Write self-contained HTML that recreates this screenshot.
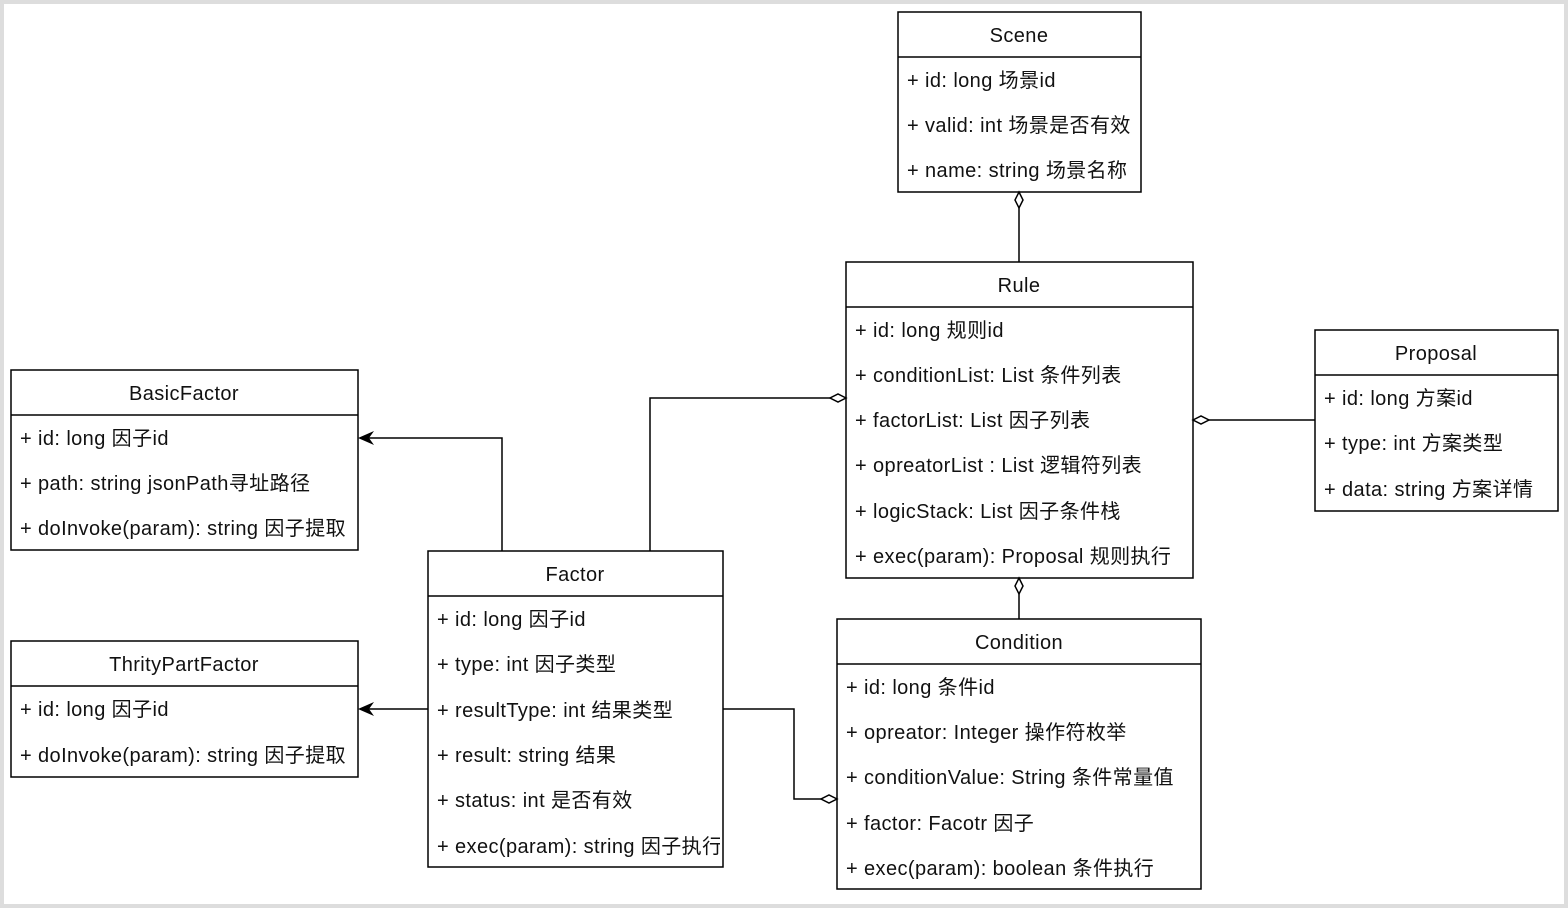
<!DOCTYPE html>
<html><head><meta charset="utf-8"><style>
body{margin:0;background:#fff}
svg text{font-family:"Liberation Sans","Noto Sans CJK SC",sans-serif;font-size:20px;letter-spacing:0.4px;fill:#111}
</style></head><body>
<svg width="1568" height="908" xmlns="http://www.w3.org/2000/svg">
<defs><clipPath id="fc"><rect x="428" y="551" width="292" height="316"/></clipPath></defs>
<rect x="2" y="2" width="1564" height="904" fill="#fff" stroke="#ddd" stroke-width="4"/>
<g fill="#fff" stroke="#000" stroke-width="1.5">
<rect x="898" y="12" width="243" height="180"/><line x1="898" y1="57" x2="1141" y2="57"/>
<rect x="846" y="262" width="347" height="316"/><line x1="846" y1="307" x2="1193" y2="307"/>
<rect x="1315" y="330" width="243" height="181"/><line x1="1315" y1="375" x2="1558" y2="375"/>
<rect x="11" y="370" width="347" height="180"/><line x1="11" y1="415" x2="358" y2="415"/>
<rect x="428" y="551" width="295" height="316"/><line x1="428" y1="596" x2="723" y2="596"/>
<rect x="11" y="641" width="347" height="136"/><line x1="11" y1="686" x2="358" y2="686"/>
<rect x="837" y="619" width="364" height="270"/><line x1="837" y1="664" x2="1201" y2="664"/>
</g>
<g fill="none" stroke="#000" stroke-width="1.5">
<line x1="1019" y1="208" x2="1019" y2="262"/>
<line x1="1019" y1="594" x2="1019" y2="619"/>
<line x1="1209" y1="420" x2="1315" y2="420"/>
<polyline points="650,551 650,398 830,398"/>
<polyline points="502,551 502,438 362,438"/>
<line x1="428" y1="709" x2="362" y2="709"/>
<polyline points="723,709 794,709 794,799 821,799"/>
</g>
<g fill="#fff" stroke="#000" stroke-width="1.5">
<polygon points="1019,192 1023,200 1019,208 1015,200"/>
<polygon points="1019,578 1023,586 1019,594 1015,586"/>
<polygon points="1193,420 1201,416 1209,420 1201,424"/>
<polygon points="846,398 838,394 830,398 838,402"/>
<polygon points="837,799 829,795 821,799 829,803"/>
</g>
<polygon points="358,438 374,431 369,438 374,445" fill="#000"/>
<polygon points="358,709 374,702 369,709 374,716" fill="#000"/>
<g text-anchor="middle">
<text x="1019" y="42">Scene</text>
<text x="1019" y="292">Rule</text>
<text x="1436" y="360">Proposal</text>
<text x="184" y="400">BasicFactor</text>
<text x="575" y="581">Factor</text>
<text x="184" y="671">ThrityPartFactor</text>
<text x="1019" y="649">Condition</text>
</g>
<text x="907" y="87">+ id: long  场景id</text>
<text x="907" y="132">+ valid: int 场景是否有效</text>
<text x="907" y="177">+ name: string 场景名称</text>
<text x="855" y="337">+ id: long 规则id</text>
<text x="855" y="382">+ conditionList: List 条件列表</text>
<text x="855" y="427">+ factorList: List 因子列表</text>
<text x="855" y="472">+ opreatorList : List 逻辑符列表</text>
<text x="855" y="518">+ logicStack: List  因子条件栈</text>
<text x="855" y="563">+ exec(param): Proposal 规则执行</text>
<text x="1324" y="405">+ id: long 方案id</text>
<text x="1324" y="450">+ type: int 方案类型</text>
<text x="1324" y="496">+ data: string 方案详情</text>
<text x="20" y="445">+ id: long 因子id</text>
<text x="20" y="490">+ path: string jsonPath寻址路径</text>
<text x="20" y="535">+ doInvoke(param): string 因子提取</text>
<text x="20" y="716">+ id: long 因子id</text>
<text x="20" y="762">+ doInvoke(param): string 因子提取</text>
<text x="437" y="626">+ id: long 因子id</text>
<text x="437" y="671">+ type: int 因子类型</text>
<text x="437" y="717">+ resultType: int 结果类型</text>
<text x="437" y="762">+ result: string 结果</text>
<text x="437" y="807">+ status: int 是否有效</text>
<text x="437" y="853" clip-path="url(#fc)">+ exec(param): string 因子执行</text>
<text x="846" y="694">+ id: long 条件id</text>
<text x="846" y="739">+ opreator: Integer 操作符枚举</text>
<text x="846" y="784">+ conditionValue: String 条件常量值</text>
<text x="846" y="830">+ factor: Facotr 因子</text>
<text x="846" y="875">+ exec(param): boolean 条件执行</text>
</svg>
</body></html>
